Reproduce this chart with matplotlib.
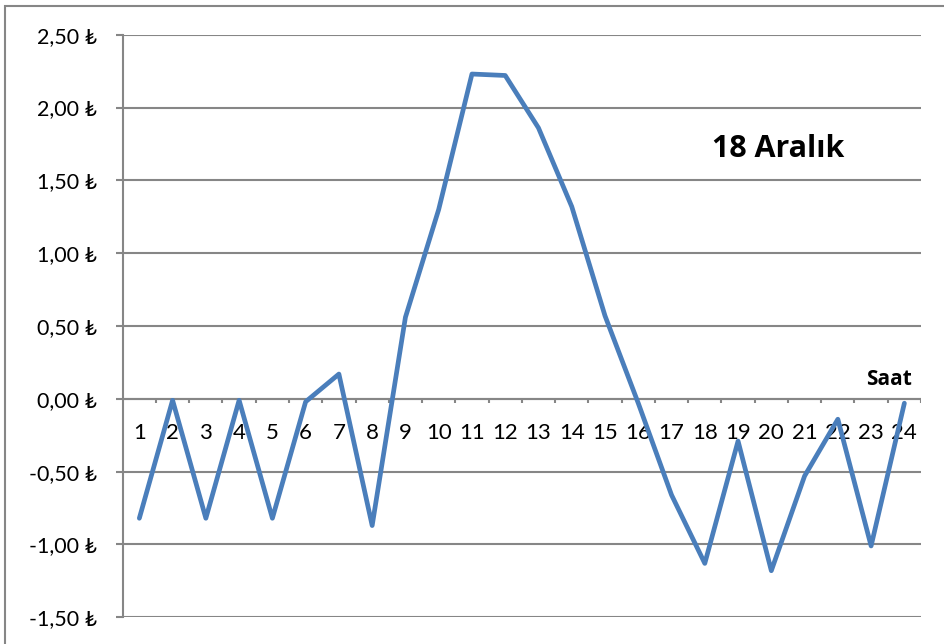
import matplotlib
matplotlib.use("Agg")
import matplotlib.pyplot as plt
from matplotlib.patches import Rectangle

# Hourly values (TL) for 18 December
hours = list(range(1, 25))
values = [-0.82, -0.01, -0.82, -0.01, -0.82, -0.02, 0.17, -0.87, 0.56, 1.30,
          2.23, 2.22, 1.86, 1.32, 0.57, -0.03, -0.66, -1.13, -0.29, -1.18,
          -0.53, -0.14, -1.01, -0.03]
y_ticks = [-1.5, -1.0, -0.5, 0.0, 0.5, 1.0, 1.5, 2.0, 2.5]
title_text = "18 Aralık"
x_axis_name = "Saat"

FONT = ["Lato", "Noto Sans", "DejaVu Sans"]
BOLD = ["Open Sans", "DejaVu Sans"]
GRID = "#868686"
LINE = "#4A7EBB"

fig = plt.figure(figsize=(9.45, 6.44), dpi=100)
W, H = 945, 644

# chart outer frame
fig.patches.append(Rectangle((5 / W, -0.1), 1.2, (H - 6) / H + 0.1,
                             transform=fig.transFigure, fill=False,
                             edgecolor=GRID, linewidth=1.5))

left, right, top, bottom = 122.7, 921, 34.7, 617.3
ax = fig.add_axes([left / W, 1 - bottom / H, (right - left) / W, (bottom - top) / H])

ax.set_xlim(0.5, 24.5)
ax.set_ylim(-1.5, 2.5)

for s in ["top", "right", "bottom"]:
    ax.spines[s].set_visible(False)
ax.spines["left"].set_color(GRID)
ax.spines["left"].set_linewidth(1.5)

ax.set_yticks(y_ticks)
ax.set_yticklabels([f"{v:.2f}".replace(".", ",") + " ₺" for v in y_ticks],
                   fontfamily=FONT, fontsize=15.5)
ax.tick_params(axis="y", length=4.7, width=1.5, color=GRID, pad=14)
ax.yaxis.grid(True, color=GRID, linewidth=1.5)
ax.set_axisbelow(True)

# category axis crossing at zero
ax.axhline(0, color=GRID, linewidth=1.5, zorder=1)
ax.set_xticks([])
for b in [h + 0.5 for h in hours]:
    ax.plot([b, b], [0, -0.03], color=GRID, linewidth=1.5, zorder=1,
            solid_capstyle="butt")
for h in hours:
    ax.text(h, -0.235, str(h), ha="center", va="center",
            fontfamily=FONT, fontsize=16)

ax.plot(hours, values, color=LINE, linewidth=3.4, solid_joinstyle="round",
        solid_capstyle="round", zorder=3)

ax.text(20.2, 1.658, title_text, ha="center", va="baseline",
        fontfamily=BOLD, fontweight="bold", fontsize=22)
ax.text(24.23, 0.095, x_axis_name, ha="right", va="baseline",
        fontfamily=BOLD, fontweight="bold", fontsize=15)

fig.savefig("out.png", dpi=100)
